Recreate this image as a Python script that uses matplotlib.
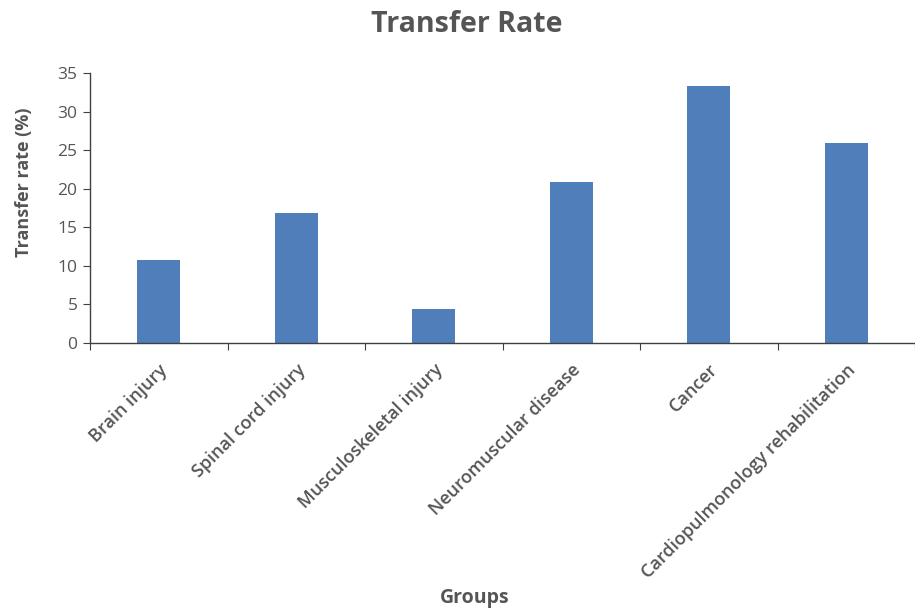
import matplotlib
matplotlib.use("Agg")
import matplotlib.pyplot as plt
import numpy as np

categories = ["Brain injury", "Spinal cord injury", "Musculoskeletal injury",
              "Neuromuscular disease", "Cancer", "Cardiopulmonology rehabilitation"]
values = [10.7, 16.9, 4.4, 20.9, 33.3, 25.9]
yticks = [0, 5, 10, 15, 20, 25, 30, 35]

plt.rcParams['font.family'] = ['Open Sans', 'DejaVu Sans']
gray = '#555555'

fig = plt.figure(figsize=(9.15, 6.14), dpi=100)
ax = fig.add_axes([90/915, 1-342.7/614, 1-90/915, (342.7-73.3)/614])

x = np.arange(len(categories))
ax.bar(x, values, width=0.31, color='#4F7EBB', zorder=2)

ax.set_ylim(0, 35)
ax.set_xlim(-0.5, 5.46)
ax.set_yticks(yticks)
ax.set_yticklabels([str(t) for t in yticks], color=gray, fontsize=12.5)

ax.set_xticks(np.arange(len(categories) + 1) - 0.5, minor=False)
ax.set_xticklabels([])
ax.set_xticks(x, minor=True)
ax.set_xticklabels(categories, minor=True, rotation=45, ha='right',
                   rotation_mode='anchor', color=gray, fontsize=13,
                   fontweight='semibold')
ax.tick_params(axis='x', which='minor', length=0, pad=13)
ax.tick_params(axis='x', which='major', length=5, direction='out', color='#404040')
ax.tick_params(axis='y', length=5, direction='out', color='#404040', pad=4)

for s in ['top', 'right']:
    ax.spines[s].set_visible(False)
for s in ['left', 'bottom']:
    ax.spines[s].set_color('#404040')
    ax.spines[s].set_linewidth(1.0)

fig.text(467/915, 1-25/614, "Transfer Rate", ha='center', va='center',
         fontsize=20.5, fontweight='bold', color=gray)
fig.text(24/915, 1-182/614, "Transfer rate (%)", ha='center', va='center',
         rotation=90, fontsize=13, fontweight='bold', color=gray)
fig.text(475/915, 1-598/614, "Groups", ha='center', va='center',
         fontsize=14, fontweight='bold', color=gray)

fig.savefig("out.png", dpi=100)
